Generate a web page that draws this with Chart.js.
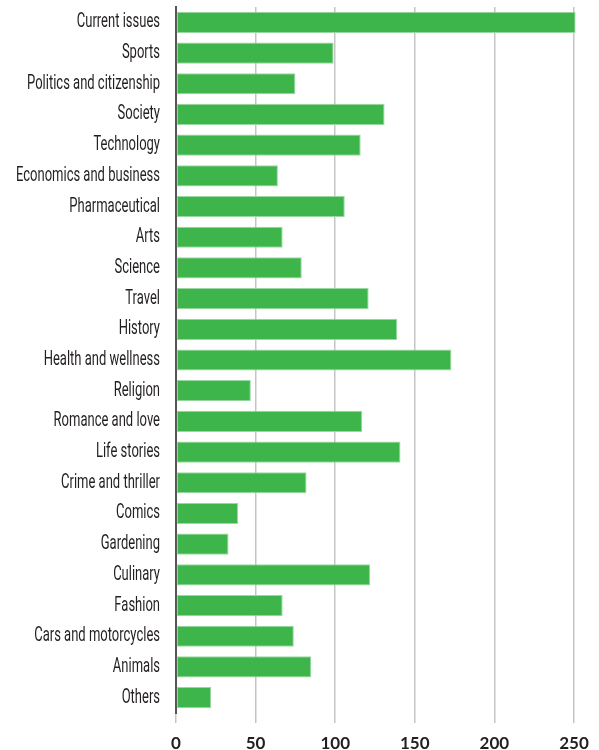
<!DOCTYPE html>
<html>
<head>
<meta charset="utf-8">
<script src="https://cdn.jsdelivr.net/npm/chart.js@4"></script>
<style>
  html, body { margin: 0; padding: 0; background: #fff; }
  #wrap { width: 599px; height: 750px; position: relative; }
</style>
</head>
<body>
<div id="wrap"><canvas id="genreChart"></canvas></div>
<script>
// Categorie (dall'alto verso il basso)
const genres = [
    'Current issues', 'Sports', 'Politics and citizenship', 'Society', 'Technology',
    'Economics and business', 'Pharmaceutical', 'Arts', 'Science', 'Travel',
    'History', 'Health and wellness', 'Religion', 'Romance and love', 'Life stories',
    'Crime and thriller', 'Comics', 'Gardening', 'Culinary', 'Fashion',
    'Cars and motorcycles', 'Animals', 'Others'
];

// Valori
const counts = [
    251, 99, 75, 131, 116,
    64, 106, 67, 79, 121,
    139, 173, 47, 117, 141,
    82, 39, 33, 122, 67,
    74, 85, 22
];

// Etichette asse x
const xTicks = [0, 50, 100, 150, 200, 250];

// Font stretto per le etichette delle categorie (nessun font condensed installato)
const labelFont = '400 20px Roboto, "DejaVu Sans", sans-serif';
const labelStretch = 0.65;

/**
 * Disegna le etichette delle categorie compresse in orizzontale
 */
const narrowLabels = {
    id: 'narrowLabels',
    afterDraw(chart) {
        const yScale = chart.scales.y;
        const c = chart.ctx;
        const right = yScale.right - 16;
        c.save();
        c.font = labelFont;
        c.fillStyle = '#231f20';
        c.textAlign = 'right';
        c.textBaseline = 'middle';
        yScale.ticks.forEach((tick, i) => {
            const y = yScale.getPixelForTick(i);
            c.save();
            c.translate(right, y);
            c.scale(labelStretch, 1);
            c.fillText(yScale.getLabelForValue(tick.value), 0, 0);
            c.restore();
        });
        c.restore();
    }
};

const ctx = document.getElementById('genreChart');

new Chart(ctx, {
    type: 'bar',
    data: {
        labels: genres,
        datasets: [{
            data: counts,
            backgroundColor: '#3db54a',
            borderColor: '#9ad8a2',
            borderWidth: 1,
            borderSkipped: false,
            categoryPercentage: 1,
            barPercentage: 0.69,
            clip: false
        }]
    },
    options: {
        indexAxis: 'y',
        responsive: true,
        maintainAspectRatio: false,
        animation: false,
        layout: {
            padding: { top: 7, right: 25, bottom: 0, left: 0 }
        },
        plugins: {
            legend: { display: false },
            tooltip: { enabled: false }
        },
        scales: {
            x: {
                min: 0,
                max: 250,
                z: 1,
                afterBuildTicks: function(scale) {
                    scale.ticks = xTicks.map(v => ({ value: v }));
                },
                afterFit: function(scale) {
                    scale.height = 37;
                },
                border: { display: false },
                grid: {
                    color: 'rgba(150, 150, 150, 0.55)',
                    lineWidth: 1.5,
                    drawTicks: true,
                    tickLength: 10,
                    tickColor: 'rgba(150, 150, 150, 0.55)'
                },
                ticks: {
                    padding: 10,
                    color: '#231f20',
                    font: {
                        size: 17,
                        weight: 'bold',
                        family: 'Lato, "Open Sans", sans-serif'
                    }
                }
            },
            y: {
                z: 2,
                afterFit: function(scale) {
                    scale.width = 176;
                },
                border: { display: true, color: '#555', width: 2 },
                grid: { display: false, drawTicks: false },
                ticks: {
                    display: false,
                    autoSkip: false
                }
            }
        }
    },
    plugins: [narrowLabels]
});
</script>
</body>
</html>
